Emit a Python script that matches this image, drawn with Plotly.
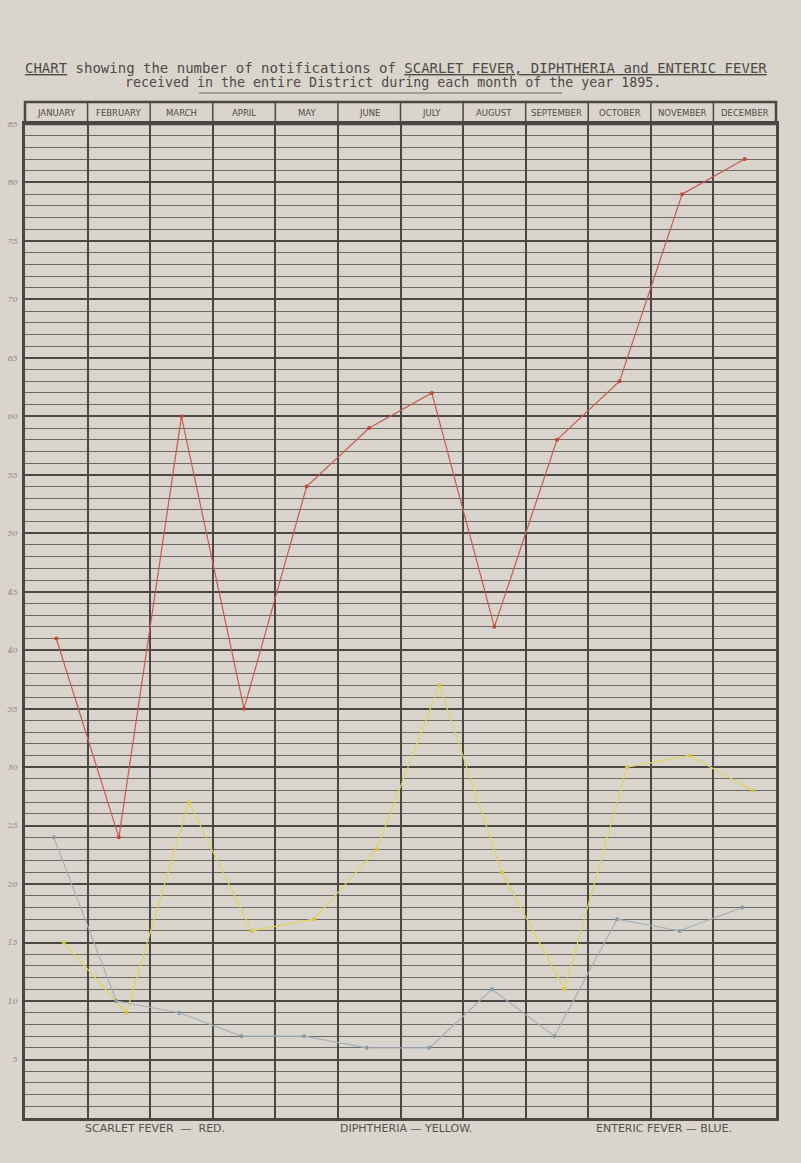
import plotly.graph_objects as go

# ---------------- data ----------------
months = ["JANUARY", "FEBRUARY", "MARCH", "APRIL", "MAY", "JUNE",
          "JULY", "AUGUST", "SEPTEMBER", "OCTOBER", "NOVEMBER", "DECEMBER"]
scarlet_fever = [41, 24, 60, 35, 54, 59, 62, 42, 58, 63, 79, 82]
diphtheria = [15, 9, 27, 16, 17, 23, 37, 21, 11, 30, 31, 28]
enteric_fever = [24, 10, 9, 7, 7, 6, 6, 11, 7, 17, 16, 18]
y_tick_values = [85, 80, 75, 70, 65, 60, 55, 50, 45, 40, 35, 30, 25, 20, 15, 10, 5]
y_tick_labels = [str(v) for v in y_tick_values]
legend_labels = ["SCARLET FEVER  —  RED.", "DIPHTHERIA — YELLOW.", "ENTERIC FEVER — BLUE."]

# ---------------- layout constants ----------------
W, H = 801, 1163
ML, MR, MT, MB = 25, 25, 124, 45
PW, PH = W - ML - MR, H - MT - MB
PAPER = "#d9d5cd"
INK = "#4a4744"
TEXT = "#4e4b48"


def py(p):
    return (H - MB - p) / PH


def px(x):
    return (x - ML) / PW


idx = list(range(len(months)))

fig = go.Figure()
series = [
    (scarlet_fever, "Scarlet Fever", "#c95a4e", "#c0463c", 0.0),
    (diphtheria, "Diphtheria", "#e2d35c", "#d8c43a", 0.12),
    (enteric_fever, "Enteric Fever", "#a3b1bb", "#8499a8", -0.04),
]
for vals, name, lc, mc, off in series:
    fig.add_trace(go.Scatter(
        x=[i + off for i in idx], y=vals, name=name, mode="lines+markers",
        line=dict(color=lc, width=1.2),
        marker=dict(color=mc, size=4),
        showlegend=False, hoverinfo="y+name",
    ))

shapes = []
annotations = []

# header row above the plot
head_top = py(102)
shapes.append(dict(type="rect", xref="paper", yref="paper", x0=0, x1=1, y0=1, y1=head_top,
                   line=dict(color=INK, width=2.5), layer="above"))
for i in range(1, len(months)):
    shapes.append(dict(type="line", xref="x", yref="paper", x0=i - 0.5, x1=i - 0.5,
                       y0=1, y1=head_top, line=dict(color=INK, width=1.5)))
for i, m in enumerate(months):
    annotations.append(dict(x=i, y=(1 + head_top) / 2, xref="x", yref="paper",
                            xanchor="center", yanchor="middle",
                            text=m, showarrow=False,
                            font=dict(family="DejaVu Sans", size=8.5, color="#4f4b47")))

# title
annotations.append(dict(
    x=px(396), y=py(68), xref="paper", yref="paper", showarrow=False,
    xanchor="center", yanchor="middle",
    text="<u>CHART</u> showing the number of notifications of "
         "<u>SCARLET FEVER, DIPHTHERIA and ENTERIC FEVER</u>",
    font=dict(family="DejaVu Sans Mono", size=14, color=TEXT)))
annotations.append(dict(
    x=px(393), y=py(83), xref="paper", yref="paper", showarrow=False,
    xanchor="center", yanchor="middle",
    text="received in the entire District during each month of the year 1895.",
    font=dict(family="DejaVu Sans Mono", size=13.3, color=TEXT)))
shapes.append(dict(type="line", xref="paper", yref="paper", x0=px(199), x1=px(562),
                   y0=py(93), y1=py(93), line=dict(color="#6a6662", width=1)))

# bottom legend text
for label, cx in zip(legend_labels, [155, 406, 664]):
    annotations.append(dict(x=px(cx), y=py(1128), xref="paper", yref="paper",
                            xanchor="center", yanchor="middle",
                            text=label, showarrow=False,
                            font=dict(family="DejaVu Sans", size=11, color="#55514c")))

fig.update_layout(
    width=W, height=H,
    margin=dict(l=ML, r=MR, t=MT, b=MB),
    paper_bgcolor=PAPER, plot_bgcolor=PAPER,
    shapes=shapes, annotations=annotations,
    xaxis=dict(range=[-0.5, len(months) - 0.5], tickmode="array",
               tickvals=[i - 0.5 for i in range(len(months) + 1)],
               showticklabels=False, ticks="", showgrid=True,
               gridcolor=INK, gridwidth=1.5, zeroline=False,
               showline=True, mirror=True, linecolor=INK, linewidth=2.5,
               fixedrange=True),
    yaxis=dict(range=[0, 85], tickmode="array", tickvals=y_tick_values,
               ticktext=y_tick_labels, ticks="", showgrid=True,
               gridcolor=INK, gridwidth=2.2, zeroline=False,
               showline=True, mirror=True, linecolor=INK, linewidth=2.5,
               tickfont=dict(family="DejaVu Serif", size=8, color="#8a8680", style="italic"),
               ticklabelstandoff=3, automargin=False,
               minor=dict(tickmode="linear", tick0=0, dtick=1, showgrid=True,
                          gridcolor="#6e6a66", gridwidth=0.8, ticks=""),
               fixedrange=True),
)

fig.write_html("out.html", config={"displayModeBar": False},
               post_script="document.body.style.margin='0';")
